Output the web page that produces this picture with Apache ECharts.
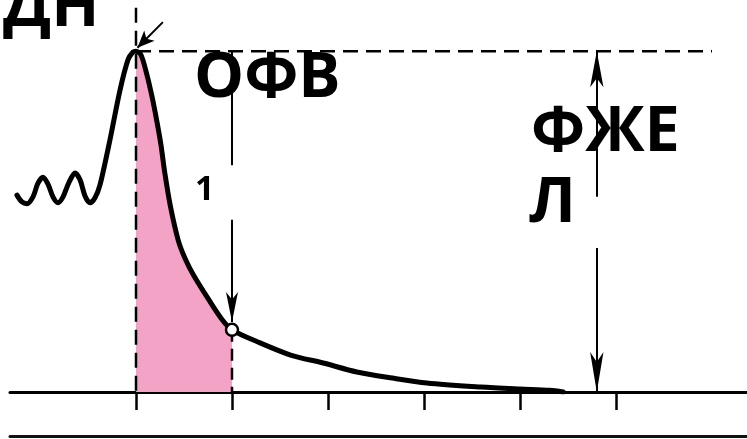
<!DOCTYPE html>
<html>
<head>
<meta charset="utf-8">
<script src="https://cdn.jsdelivr.net/npm/echarts@6/dist/echarts.min.js"></script>
<style>html,body{margin:0;padding:0;background:#fff;}#c{width:747px;height:439px;}</style>
</head>
<body>
<div id="c"></div>
<script>
// Spirogram: time (s) vs volume (L)
const timeS = [-1.24,-1.188,-1.135,-1.073,-1.021,-0.969,-0.917,-0.865,-0.813,-0.760,-0.698,-0.635,-0.583,-0.531,-0.479,-0.427,-0.375,-0.271,-0.167,-0.083,-0.031,0,
  0.05,0.11,0.17,0.22,0.26,0.30,0.36,0.44,0.51,0.60,0.76,0.90,1.0,
  1.27,1.61,1.95,2.30,2.67,3.03,3.59,4.0,4.31,4.45];
const volumeL = [2.31,2.23,2.21,2.29,2.45,2.52,2.44,2.29,2.22,2.29,2.46,2.57,2.49,2.30,2.22,2.28,2.43,2.96,3.54,3.90,3.99,4.0,
  3.96,3.74,3.45,3.16,2.90,2.57,2.17,1.78,1.57,1.37,1.08,0.845,0.73,
  0.587,0.434,0.340,0.235,0.164,0.106,0.059,0.035,0.02,0.0];
const tickTimes = [0, 1, 2, 3, 4, 5];
const fvcVolume = 4.0;     // peak volume
const fev1Time = 1.0;
const fev1Volume = 0.73;
const fvcArrowTime = 4.8;
const dashEndTime = 6.0;
const labelDN = 'ДН';
const labelFEV = 'ОФВ';
const labelFEVsub = '1';
const labelFVC1 = 'ФЖЕ';
const labelFVC2 = 'Л';

const curve = timeS.map((t, i) => [t, volumeL[i]]);
const startIdx = timeS.indexOf(0);
const endIdx = timeS.indexOf(fev1Time);
const fillPart = curve.slice(startIdx, endIdx + 1);

const chart = echarts.init(document.getElementById('c'), null, {renderer: 'canvas'});
const dash = [15, 8];
const font = "'Open Sans', 'Noto Sans', sans-serif";

function seg(a, b, endSym, startSym, size) {
  return [
    {coord: a, symbol: startSym || 'none', symbolSize: size},
    {coord: b, symbol: endSym || 'none', symbolSize: size}
  ];
}

chart.setOption({
  animation: false,
  backgroundColor: '#fff',
  grid: {left: 10, right: 0, top: 0, bottom: 47},
  xAxis: [{
    type: 'value', min: -1.3125, max: 6.3646,
    axisLine: {show: true, onZero: false, lineStyle: {color: '#000', width: 3}},
    axisTick: {show: true, inside: false, length: 18, customValues: tickTimes, lineStyle: {color: '#000', width: 2.5}},
    axisLabel: {show: false},
    splitLine: {show: false}
  }, {
    type: 'value', min: -1.3125, max: 6.3646, position: 'bottom', offset: 44,
    axisLine: {show: true, onZero: false, lineStyle: {color: '#111', width: 3}},
    axisTick: {show: false}, axisLabel: {show: false}, splitLine: {show: false}
  }],
  yAxis: {type: 'value', min: 0, max: 4.6, show: false, splitLine: {show: false}},
  series: [
    {
      type: 'line', data: fillPart, smooth: 0.3, showSymbol: false,
      lineStyle: {width: 0}, areaStyle: {color: '#f3a3c5', opacity: 1}, z: 1
    },
    {
      type: 'line', data: [[0, 4.51], [0, 0]], showSymbol: false,
      lineStyle: {color: '#000', width: 2.5, type: dash}, z: 2
    },
    {
      type: 'line', data: [[fev1Time, fev1Volume], [fev1Time, 0]], showSymbol: false,
      lineStyle: {color: '#000', width: 2.5, type: [12, 7]}, z: 2
    },
    {
      type: 'line', data: [[0, fvcVolume], [dashEndTime, fvcVolume]], showSymbol: false,
      lineStyle: {color: '#000', width: 2.5, type: dash}, z: 2
    },
    {
      type: 'line', data: curve, smooth: 0.3, showSymbol: false,
      lineStyle: {color: '#000', width: 5, cap: 'round', join: 'round'}, z: 3,
      markLine: {
        silent: true, animation: false,
        label: {show: false},
        lineStyle: {color: '#000', width: 2, type: 'solid'},
        data: [
          seg([fev1Time, fvcVolume], [fev1Time, 2.66]),
          seg([fev1Time, 2.02], [fev1Time, 0.82], 'arrow', 'none', [9, 30]),
          seg([fvcArrowTime, 2.29], [fvcArrowTime, fvcVolume], 'arrow', 'none', [10, 36]),
          seg([fvcArrowTime, 1.69], [fvcArrowTime, 0], 'arrow', 'none', [10, 40]),
          seg([0.28, 4.34], [0.015, 4.04], 'arrow', 'none', [11, 17])
        ]
      }
    },
    {
      type: 'scatter', data: [[fev1Time, fev1Volume]], symbol: 'circle', symbolSize: 12,
      itemStyle: {color: '#ffffff', borderColor: '#000', borderWidth: 2.5, opacity: 1}, z: 6
    }
  ],
  graphic: [
    {type: 'text', left: 3, top: -23, z: 10, style: {text: labelDN, font: 'bold 63px ' + font, fill: '#000'}},
    {type: 'text', left: 194, top: 48, z: 10, style: {text: labelFEV, font: 'bold 63px ' + font, fill: '#000'}},
    {type: 'text', left: 195, top: 173, z: 10, style: {text: labelFEVsub, font: 'bold 34px ' + font, fill: '#000'}},
    {type: 'text', left: 531, top: 102, z: 10, style: {text: labelFVC1, font: 'bold 63px ' + font, fill: '#000'}},
    {type: 'text', left: 529, top: 173, z: 10, style: {text: labelFVC2, font: 'bold 63px ' + font, fill: '#000'}}
  ]
});
</script>
</body>
</html>
